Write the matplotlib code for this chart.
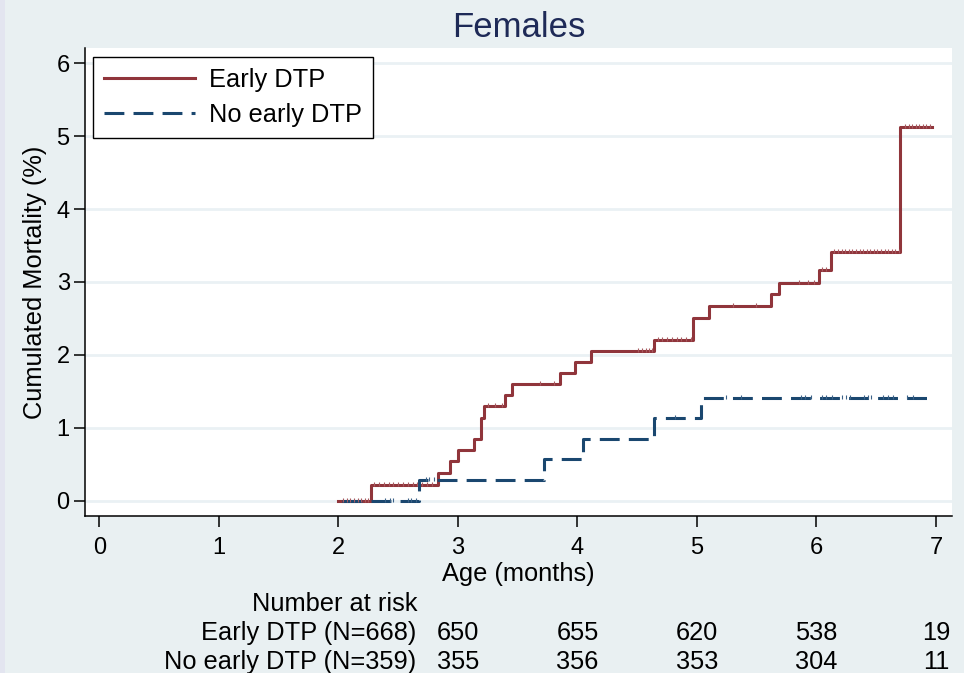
import numpy as np
import matplotlib
matplotlib.use('Agg')
import matplotlib.pyplot as plt
import matplotlib.transforms as mtransforms
from matplotlib.patches import Rectangle

plt.rcParams['font.family'] = ['Liberation Sans', 'DejaVu Sans']

# Kaplan-Meier style cumulative mortality (%) by age in months
early_t = [2.00, 2.27, 2.83, 2.93, 3.00, 3.13, 3.19, 3.22, 3.39, 3.45, 3.85,
           3.98, 4.11, 4.64, 4.97, 5.10, 5.62, 5.69, 6.02, 6.12, 6.70, 6.97]
early_y = [0.00, 0.22, 0.38, 0.54, 0.69, 0.84, 1.13, 1.30, 1.45, 1.60, 1.75,
           1.90, 2.05, 2.21, 2.51, 2.67, 2.83, 2.99, 3.17, 3.41, 5.13, 5.13]

noearly_t = [2.03, 2.67, 3.72, 4.05, 4.64, 5.03, 6.97]
noearly_y = [0.00, 0.29, 0.57, 0.85, 1.13, 1.41, 1.41]

# censoring times
early_cens = [2.04, 2.07, 2.10, 2.13, 2.16, 2.19, 2.22, 2.25,
              2.30, 2.34, 2.38, 2.42, 2.46, 2.50, 2.54, 2.58, 2.62, 2.66, 2.70, 2.74, 2.78,
              3.25, 3.31, 3.37, 3.69, 3.80,
              4.51, 4.54, 4.57, 4.60, 4.62,
              4.67, 4.71, 4.75, 4.79, 4.83, 4.87, 4.91, 4.95,
              5.30, 5.49, 5.85, 5.93, 5.98, 6.05, 6.08,
              6.15, 6.18, 6.21, 6.24, 6.27, 6.30, 6.33, 6.36, 6.39, 6.42, 6.45,
              6.48, 6.51, 6.54, 6.57, 6.60, 6.63, 6.66, 6.69,
              6.74, 6.77, 6.80, 6.83, 6.86, 6.89, 6.92, 6.95]
noearly_cens = [2.39, 2.43, 2.46, 2.58, 2.61, 2.65, 2.73, 2.76, 2.80,
                4.82, 5.24, 5.37, 5.87, 5.90, 5.95, 6.05, 6.08, 6.13,
                6.21, 6.25, 6.28, 6.40, 6.43, 6.46, 6.56, 6.60, 6.64, 6.76, 6.81]

risk_times = [3, 4, 5, 6, 7]
risk_early = [650, 655, 620, 538, 19]
risk_noearly = [355, 356, 353, 304, 11]
risk_labels = ['Early DTP (N=668)', 'No early DTP (N=359)']

red = '#90353B'
navy = '#1A476F'
bg = '#E9F0F2'
fs = 18.3


def step_value(t, times, vals):
    idx = np.searchsorted(times, t, side='right') - 1
    return np.asarray(vals)[idx]


fig = plt.figure(figsize=(9.64, 6.73), dpi=100, facecolor=bg)
fig.patches.append(Rectangle((0, 0), 5 / 964, 1, transform=fig.transFigure,
                             facecolor='#E3E5F0', edgecolor='none', zorder=-1))
ax = fig.add_axes([85 / 964, 1 - 516 / 673, 867 / 964, 468 / 673])
ax.set_facecolor('white')

ax.step(early_t, early_y, where='post', color=red, lw=2.2, label='Early DTP', zorder=3)
ax.step(noearly_t, noearly_y, where='post', color=navy, lw=2.2,
        linestyle=(0, (6.5, 3)), label='No early DTP', zorder=3)
ax.plot(early_cens, step_value(early_cens, early_t, early_y) + 0.012, '|',
        color='#A85A60', ms=2.8, mew=0.8, zorder=4)
ax.plot(noearly_cens, step_value(noearly_cens, noearly_t, noearly_y) + 0.012, '|',
        color='#3C6288', ms=2.8, mew=0.8, zorder=4)

ax.set_xlim(-0.121, 7.134)
ax.set_ylim(-0.21, 6.21)
ax.set_xticks(range(8))
ax.set_yticks(range(7))
ax.yaxis.grid(True, color='#EAF1F4', lw=2)
ax.set_axisbelow(True)
for s in ['top', 'right']:
    ax.spines[s].set_visible(False)
for s in ['left', 'bottom']:
    ax.spines[s].set_linewidth(1.1)
ax.tick_params(axis='both', direction='out', length=8, width=1.1,
               labelsize=17)
ax.tick_params(axis='x', pad=7)
ax.tick_params(axis='y', pad=3)

ax.set_title('Females', fontsize=25, color='#1E2A57', pad=8)
ax.set_xlabel('Age (months)', fontsize=fs, labelpad=2)
ax.set_ylabel('Cumulated Mortality (%)', fontsize=fs, labelpad=7)

leg = ax.legend(loc='upper left', bbox_to_anchor=(8 / 867, (516 - 57) / 468),
                borderaxespad=0, fontsize=fs, handlelength=3.6,
                handletextpad=0.55, labelspacing=0.45, borderpad=0.42,
                fancybox=False, framealpha=1, edgecolor='black')
leg.get_frame().set_linewidth(1.0)

# number at risk table
tr = mtransforms.blended_transform_factory(ax.transData, fig.transFigure)
fig.text(417 / 964, 1 - 604 / 673, 'Number at risk', ha='right', va='center',
         fontsize=fs)
for row, (lab, counts) in enumerate(zip(risk_labels, [risk_early, risk_noearly])):
    y = 1 - (633 + 29 * row) / 673
    fig.text(416 / 964, y, lab, ha='right', va='center', fontsize=fs)
    for t, c in zip(risk_times, counts):
        ax.text(t, y, str(c), transform=tr, ha='center', va='center',
                fontsize=fs, clip_on=False)

fig.savefig('out.png', dpi=100, facecolor=bg)
